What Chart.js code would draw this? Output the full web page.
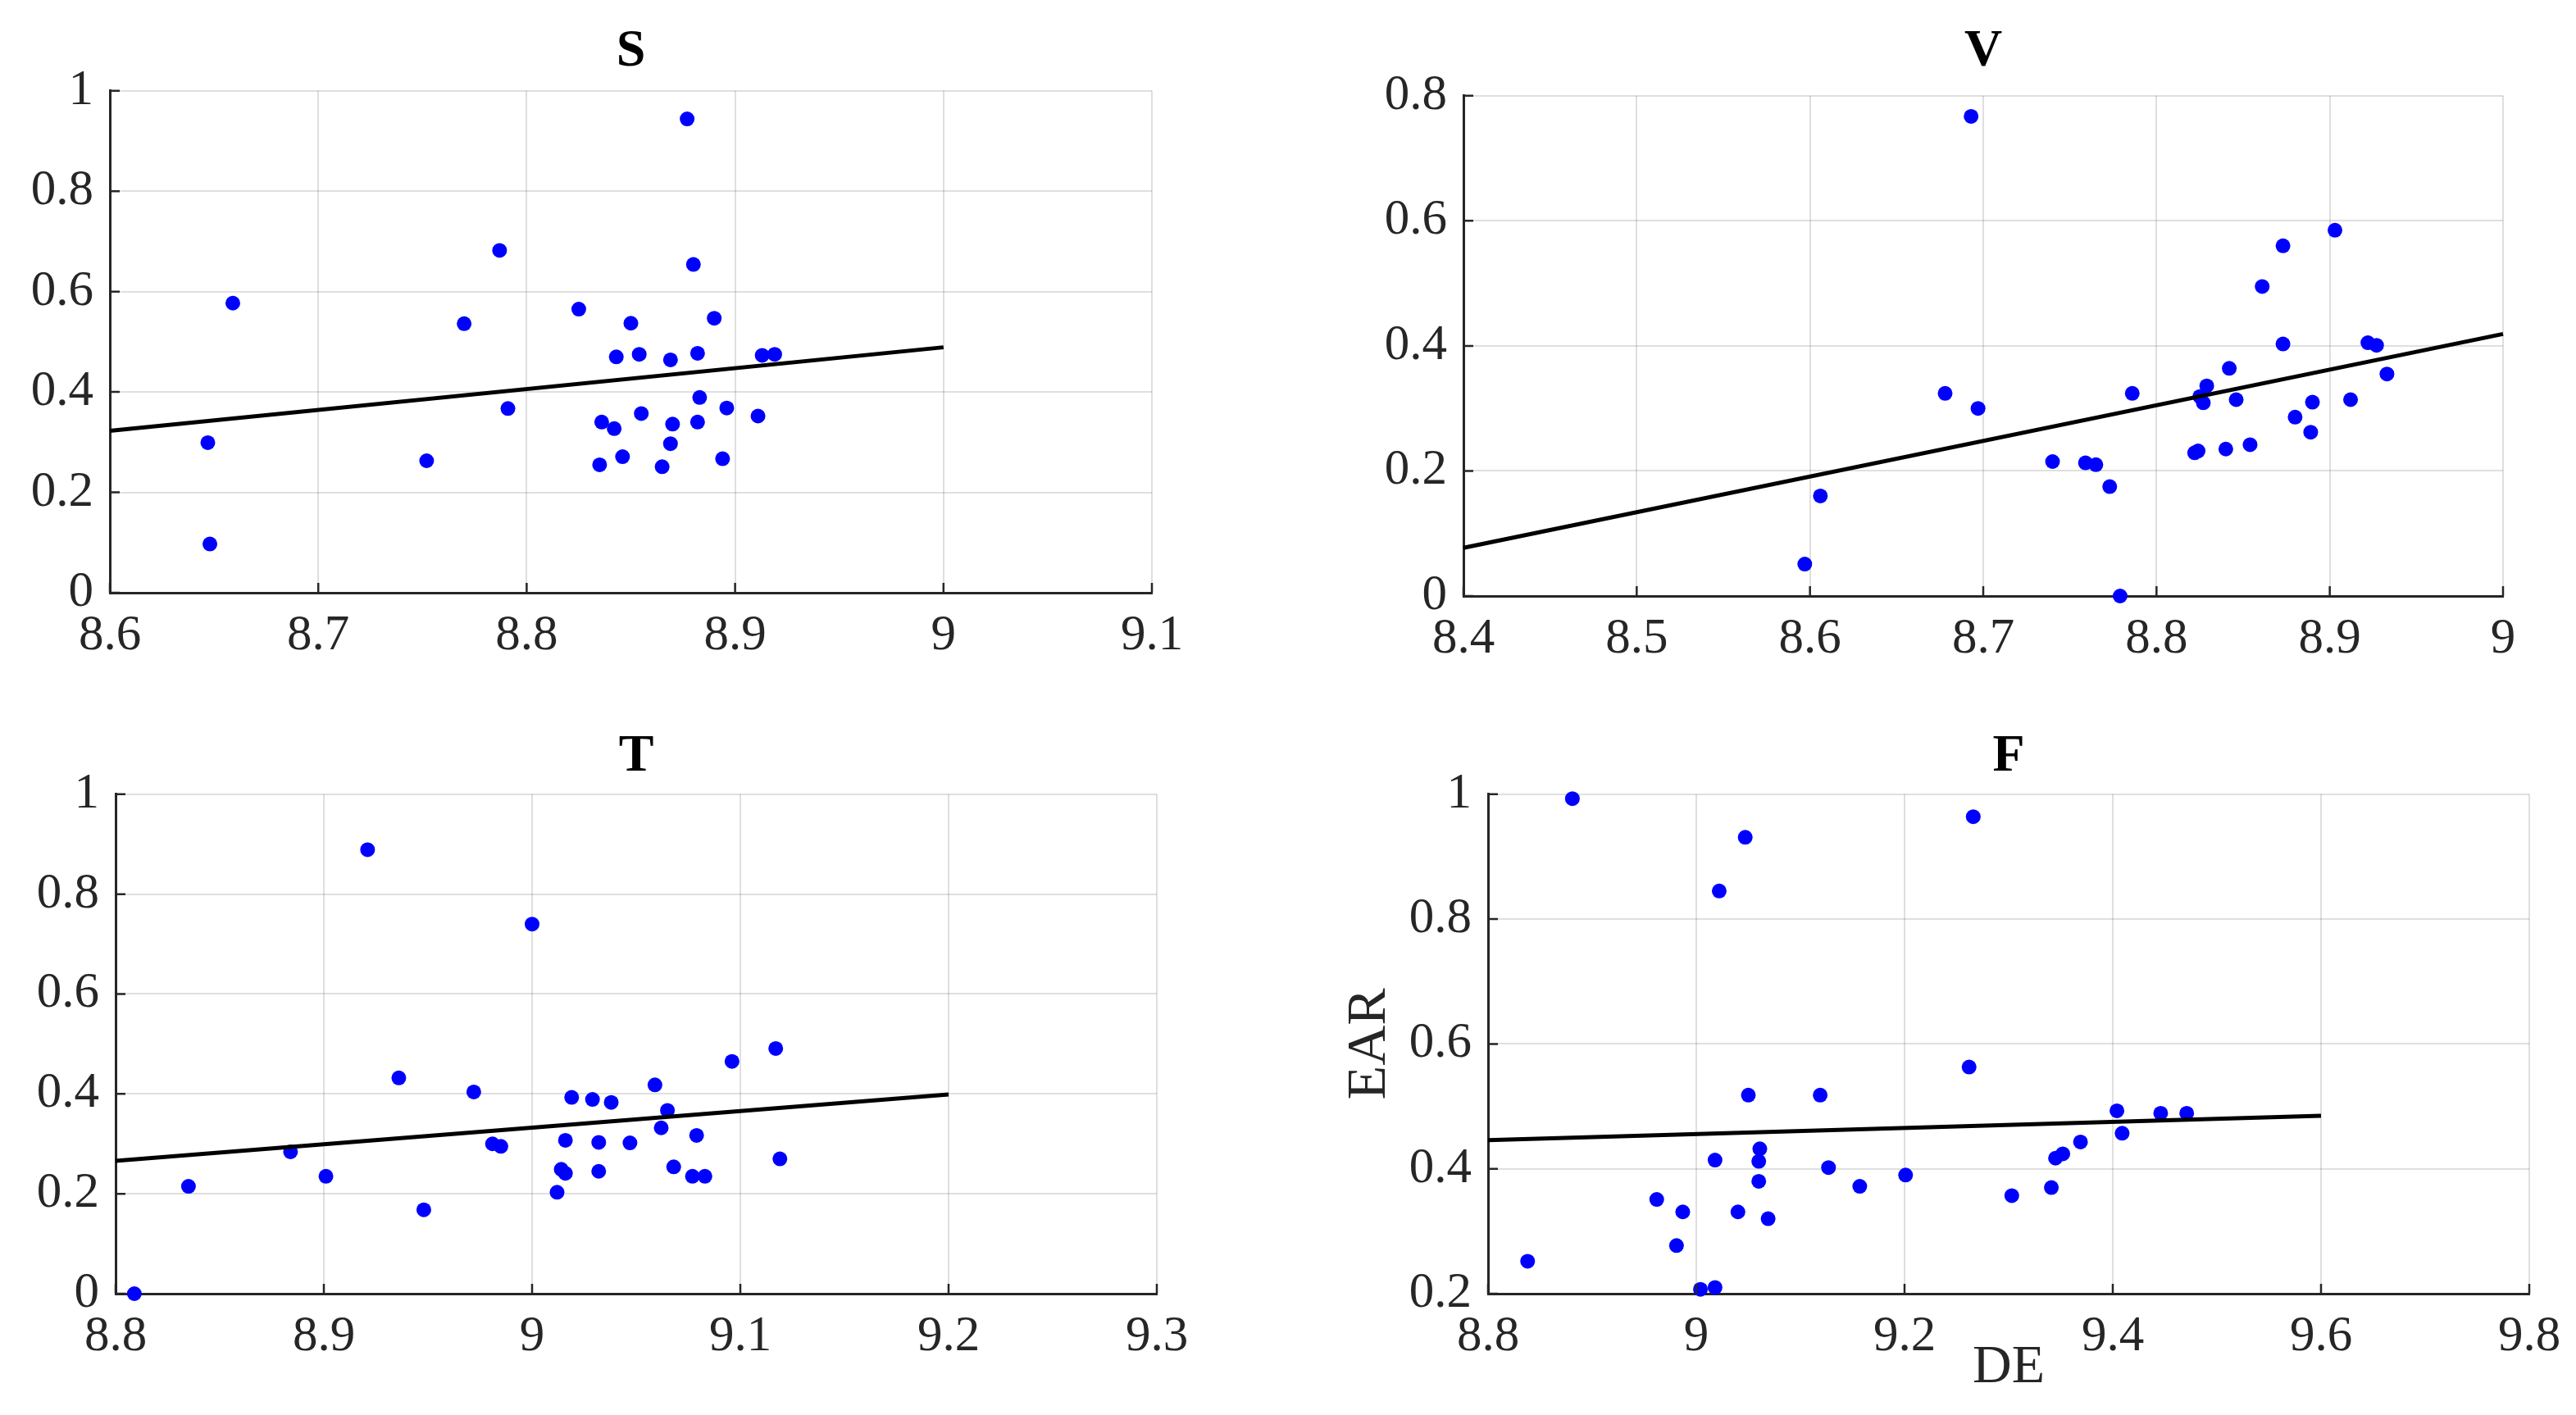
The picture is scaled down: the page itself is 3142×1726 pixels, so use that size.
<!DOCTYPE html>
<html><head><meta charset="utf-8">
<script src="https://cdn.jsdelivr.net/npm/chart.js@4.4.1/dist/chart.umd.min.js"></script>
<style>
html,body{margin:0;padding:0;background:#fff;width:3142px;height:1726px;overflow:hidden;position:relative}
canvas{position:absolute}
</style></head><body>
<canvas id="cS" width="1571" height="863" style="left:0;top:0"></canvas>
<canvas id="cV" width="1571" height="863" style="left:1571px;top:0"></canvas>
<canvas id="cT" width="1571" height="863" style="left:0;top:863px"></canvas>
<canvas id="cF" width="1571" height="863" style="left:1571px;top:863px"></canvas>
<script>
// ---- Panel S ----
const sX = [8.877, 8.787, 8.880, 8.659, 8.825, 8.770, 8.850, 8.890, 8.843, 8.854, 8.869, 8.882, 8.913, 8.919, 8.791, 8.883, 8.896, 8.855, 8.911, 8.836, 8.842, 8.870, 8.882, 8.647, 8.869, 8.752, 8.846, 8.835, 8.865, 8.894, 8.648];
const sY = [0.944, 0.682, 0.654, 0.577, 0.565, 0.536, 0.537, 0.547, 0.470, 0.475, 0.464, 0.477, 0.473, 0.475, 0.367, 0.389, 0.368, 0.357, 0.352, 0.340, 0.327, 0.336, 0.340, 0.299, 0.297, 0.263, 0.271, 0.255, 0.251, 0.267, 0.097];
const sFitX = [8.6, 9.0];
const sFitY = [0.3225, 0.489];
const sXTicks = [8.6, 8.7, 8.8, 8.9, 9, 9.1];
const sYTicks = [0, 0.2, 0.4, 0.6, 0.8, 1];

// ---- Panel V ----
const vX = [8.693, 8.903, 8.873, 8.861, 8.873, 8.922, 8.927, 8.842, 8.933, 8.829, 8.678, 8.786, 8.825, 8.827, 8.846, 8.890, 8.912, 8.697, 8.880, 8.889, 8.854, 8.840, 8.824, 8.822, 8.740, 8.759, 8.765, 8.773, 8.606, 8.597, 8.779];
const vY = [0.767, 0.585, 0.560, 0.495, 0.403, 0.405, 0.401, 0.364, 0.355, 0.336, 0.324, 0.324, 0.319, 0.309, 0.314, 0.310, 0.314, 0.300, 0.286, 0.262, 0.242, 0.235, 0.232, 0.229, 0.215, 0.213, 0.210, 0.175, 0.160, 0.051, 0.0];
const vFitX = [8.4, 9.0];
const vFitY = [0.077, 0.419];
const vXTicks = [8.4, 8.5, 8.6, 8.7, 8.8, 8.9, 9];
const vYTicks = [0, 0.2, 0.4, 0.6, 0.8];

// ---- Panel T ----
const tX = [8.921, 9.000, 9.117, 9.096, 8.936, 9.059, 8.972, 9.019, 9.029, 9.038, 9.065, 9.062, 9.079, 9.016, 9.032, 9.047, 8.981, 8.985, 8.884, 9.119, 9.068, 9.014, 9.016, 9.032, 8.901, 9.077, 9.083, 8.835, 9.012, 8.948, 8.809];
const tY = [0.889, 0.740, 0.491, 0.465, 0.432, 0.418, 0.404, 0.393, 0.389, 0.383, 0.367, 0.332, 0.317, 0.307, 0.303, 0.302, 0.300, 0.295, 0.284, 0.270, 0.254, 0.249, 0.241, 0.245, 0.235, 0.235, 0.235, 0.215, 0.203, 0.168, 0.0];
const tFitX = [8.8, 9.2];
const tFitY = [0.266, 0.399];
const tXTicks = [8.8, 8.9, 9, 9.1, 9.2, 9.3];
const tYTicks = [0, 0.2, 0.4, 0.6, 0.8, 1];

// ---- Panel F ----
const fX = [8.881, 9.266, 9.047, 9.022, 9.262, 9.050, 9.119, 9.404, 9.446, 9.471, 9.409, 9.369, 9.061, 9.352, 9.345, 9.018, 9.060, 9.127, 9.201, 9.060, 9.157, 9.341, 9.303, 8.962, 8.987, 9.040, 9.069, 8.981, 8.838, 9.004, 9.018];
const fY = [0.993, 0.964, 0.931, 0.845, 0.563, 0.518, 0.518, 0.493, 0.489, 0.489, 0.457, 0.443, 0.432, 0.424, 0.417, 0.414, 0.412, 0.402, 0.390, 0.380, 0.372, 0.370, 0.357, 0.351, 0.331, 0.331, 0.320, 0.277, 0.252, 0.207, 0.210];
const fFitX = [8.8, 9.6];
const fFitY = [0.446, 0.485];
const fXTicks = [8.8, 9, 9.2, 9.4, 9.6, 9.8];
const fYTicks = [0.2, 0.4, 0.6, 0.8, 1];

const panelTitles = ['S', 'V', 'T', 'F'];
const xAxisTitle = 'DE';
const yAxisTitle = 'EAR';

const SERIF = "Liberation Serif, Times New Roman, serif";
Chart.defaults.font.family = SERIF;
Chart.defaults.color = '#262626';

const AXIS = '#262626';
const GRID = 'rgba(38,38,38,0.15)';
const fmt = v => String(+Number(v).toFixed(2));

const innerTicks = {
  id: 'innerTicks',
  afterDraw(chart) {
    const {ctx, chartArea: a, scales} = chart;
    ctx.save();
    ctx.strokeStyle = AXIS;
    ctx.lineWidth = 2.5;
    ctx.beginPath();
    scales.x.ticks.forEach(t => {
      const p = scales.x.getPixelForValue(t.value);
      ctx.moveTo(p, a.bottom); ctx.lineTo(p, a.bottom - 12);
    });
    scales.y.ticks.forEach(t => {
      const p = scales.y.getPixelForValue(t.value);
      ctx.moveTo(a.left, p); ctx.lineTo(a.left + 12, p);
    });
    ctx.stroke();
    ctx.restore();
  }
};

function toPts(xs, ys) { return xs.map((x, i) => ({x, y: ys[i]})); }

function makePanel(id, title, xs, ys, fx, fy, xt, yt, g) {
  const ctx = document.getElementById(id);
  new Chart(ctx, {
    type: 'scatter',
    data: {
      datasets: [
        { data: toPts(fx, fy), showLine: true, borderColor: '#000', borderWidth: 5,
          pointRadius: 0, fill: false, clip: false },
        { data: toPts(xs, ys), backgroundColor: '#0000ff', borderWidth: 0,
          pointRadius: 9, pointHoverRadius: 9, clip: false }
      ]
    },
    options: {
      responsive: false, animation: false, devicePixelRatio: 1,
      layout: { padding: { left: 0, top: 0, right: g.padRight, bottom: 0 } },
      plugins: {
        legend: { display: false }, tooltip: { enabled: false },
        title: { display: true, text: title, fullSize: false, color: '#000',
          font: { family: SERIF, size: 64, weight: 'bold', lineHeight: 1.2 },
          padding: { top: g.tTop, bottom: g.tBottom } }
      },
      scales: {
        x: {
          type: 'linear', min: xt[0], max: xt[xt.length - 1],
          afterBuildTicks: s => { s.ticks = xt.map(v => ({value: v})); },
          afterFit: s => { s.height = g.xH; },
          grid: { color: GRID, lineWidth: 2, drawTicks: false },
          border: { display: true, color: AXIS, width: 3 },
          ticks: { autoSkip: false, maxRotation: 0, padding: 16, callback: fmt,
            font: { family: SERIF, size: 61 }, color: '#262626' },
          title: g.xTitle ? { display: true, text: g.xTitle, font: { family: SERIF, size: 66 }, color: '#262626',
            padding: { top: 0, bottom: 18 } } : { display: false }
        },
        y: {
          type: 'linear', min: yt[0], max: yt[yt.length - 1],
          afterBuildTicks: s => { s.ticks = yt.map(v => ({value: v})); },
          afterFit: s => { s.width = g.yW; },
          grid: { color: GRID, lineWidth: 2, drawTicks: false },
          border: { display: true, color: AXIS, width: 3 },
          ticks: { autoSkip: false, padding: 20, callback: fmt,
            font: { family: SERIF, size: 61 }, color: '#262626' },
          title: g.yTitle ? { display: true, text: g.yTitle, font: { family: SERIF, size: 68 }, color: '#262626',
            padding: { top: 59, bottom: 0 } } : { display: false }
        }
      }
    },
    plugins: [innerTicks]
  });
}

makePanel('cS', panelTitles[0], sX, sY, sFitX, sFitY, sXTicks, sYTicks,
  { yW: 134, xH: 140, padRight: 166, tTop: 25, tBottom: 9 });
makePanel('cV', panelTitles[1], vX, vY, vFitX, vFitY, vXTicks, vYTicks,
  { yW: 214, xH: 136, padRight: 89, tTop: 25, tBottom: 15 });
makePanel('cT', panelTitles[2], tX, tY, tFitX, tFitY, tXTicks, tYTicks,
  { yW: 141, xH: 148, padRight: 160, tTop: 22, tBottom: 7 });
makePanel('cF', panelTitles[3], fX, fY, fFitX, fFitY, fXTicks, fYTicks,
  { yW: 244, xH: 148, padRight: 57, tTop: 22, tBottom: 7, xTitle: xAxisTitle, yTitle: yAxisTitle });
</script>
</body></html>
